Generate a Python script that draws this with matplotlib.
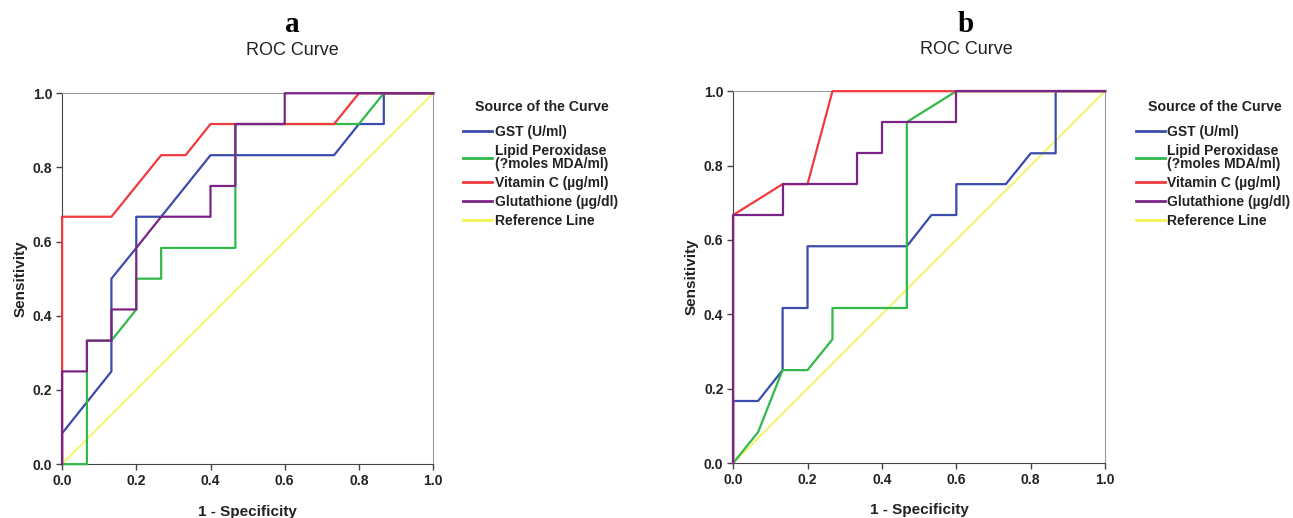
import matplotlib
matplotlib.use("Agg")
import matplotlib.pyplot as plt

plt.rcParams['font.family'] = ['Liberation Sans', 'DejaVu Sans']

labels = ["GST (U/ml)", "Lipid Peroxidase\n(?moles MDA/ml)", "Vitamin C (\u00b5g/ml)",
          "Glutathione (\u00b5g/dl)", "Reference Line"]
colors = ['#3b4cad', '#33b84c', '#ef3a3e', '#7a2485', '#f4f452']

# Panel a (x = 1 - specificity, y = sensitivity)
a_gst_x = [0, 0, 0.133, 0.133, 0.2, 0.2, 0.267, 0.4, 0.733, 0.8, 0.867, 0.867, 1]
a_gst_y = [0, 0.083, 0.25, 0.5, 0.583, 0.667, 0.667, 0.833, 0.833, 0.917, 0.917, 1.0, 1]
a_lip_x = [0, 0.067, 0.067, 0.067, 0.133, 0.2, 0.2, 0.267, 0.267, 0.467, 0.467, 0.8, 0.867, 1]
a_lip_y = [0, 0, 0.25, 0.333, 0.333, 0.417, 0.5, 0.5, 0.583, 0.583, 0.917, 0.917, 1.0, 1]
a_vit_x = [0, 0, 0.133, 0.267, 0.333, 0.4, 0.733, 0.8, 1]
a_vit_y = [0, 0.667, 0.667, 0.833, 0.833, 0.917, 0.917, 1.0, 1]
a_glu_x = [0, 0, 0.067, 0.067, 0.133, 0.133, 0.2, 0.2, 0.267, 0.4, 0.4, 0.467, 0.467, 0.6, 0.6, 1]
a_glu_y = [0, 0.25, 0.25, 0.333, 0.333, 0.417, 0.417, 0.583, 0.667, 0.667, 0.75, 0.75, 0.917, 0.917, 1.0, 1]

# Panel b
b_gst_x = [0, 0, 0.067, 0.133, 0.133, 0.2, 0.2, 0.467, 0.533, 0.6, 0.6, 0.733, 0.8, 0.867, 0.867, 1]
b_gst_y = [0, 0.167, 0.167, 0.25, 0.417, 0.417, 0.583, 0.583, 0.667, 0.667, 0.75, 0.75, 0.833, 0.833, 1.0, 1]
b_lip_x = [0, 0.067, 0.133, 0.2, 0.267, 0.267, 0.467, 0.467, 0.6, 1]
b_lip_y = [0, 0.083, 0.25, 0.25, 0.333, 0.417, 0.417, 0.917, 1.0, 1]
b_vit_x = [0, 0, 0.133, 0.2, 0.267, 1]
b_vit_y = [0, 0.667, 0.75, 0.75, 1.0, 1]
b_glu_x = [0, 0, 0.133, 0.133, 0.333, 0.333, 0.4, 0.4, 0.6, 0.6, 1]
b_glu_y = [0, 0.667, 0.667, 0.75, 0.75, 0.833, 0.833, 0.917, 0.917, 1.0, 1]

ref_x = [0, 1]
ref_y = [0, 1]

ticks = [0.0, 0.2, 0.4, 0.6, 0.8, 1.0]
tick_labels = ["0.0", "0.2", "0.4", "0.6", "0.8", "1.0"]

fig = plt.figure(figsize=(12.93, 5.18), dpi=100)
ax_a = fig.add_axes([0.048, 0.104, 0.287, 0.716])
ax_b = fig.add_axes([0.567, 0.106, 0.2877, 0.718])

panels = [
    (ax_a, "a", [(a_gst_x, a_gst_y), (a_lip_x, a_lip_y), (a_vit_x, a_vit_y), (a_glu_x, a_glu_y)],
     0.418, 0.419, 0.620, 1.164, 1.102),
    (ax_b, "b", [(b_gst_x, b_gst_y), (b_lip_x, b_lip_y), (b_vit_x, b_vit_y), (b_glu_x, b_glu_y)],
     0.938, 0.9395, 0.626, 1.159, 1.0995),
]

for ax, letter, series, legx, titx, tx, ly, ry in panels:
    handles = []
    for (xs, ys), c, lab in zip(series, colors[:4], labels[:4]):
        h, = ax.plot(xs, ys, color=c, lw=1.6, clip_on=False, zorder=3, label=lab)
        handles.append(h)
    h, = ax.plot(ref_x, ref_y, color=colors[4], lw=1.2, clip_on=False, zorder=2, label=labels[4])
    handles.append(h)
    ax.set_xlim(0, 1)
    ax.set_ylim(0, 1)
    ax.set_xticks(ticks)
    ax.set_xticklabels(tick_labels, fontsize=10, fontweight='bold', color='#222222')
    ax.set_yticks(ticks)
    ax.set_yticklabels(tick_labels, fontsize=10, fontweight='bold', color='#222222')
    ax.tick_params(direction='out', length=4, width=1, color='#444444', pad=3)
    for side in ['top', 'right']:
        ax.spines[side].set_color('#999999')
    for side in ['left', 'bottom']:
        ax.spines[side].set_color('#444444')
    ax.set_xlabel("1 - Specificity", fontsize=11, fontweight='bold', color='#222222', labelpad=12)
    ax.set_ylabel("Sensitivity", fontsize=11, fontweight='bold', color='#222222', labelpad=4)
    ax.text(tx, ry, "ROC Curve", transform=ax.transAxes, ha='center', va='baseline',
            fontsize=13, color='#222222')
    ax.text(tx, ly, letter, transform=ax.transAxes, ha='center', va='baseline',
            fontsize=21, fontweight='bold', family='Liberation Serif', color='black')
    fig.text(titx, (518 - 107) / 518, "Source of the Curve", ha='center', va='center',
             fontsize=10.2, fontweight='bold', color='#222222')
    leg = fig.legend(handles=handles, loc='upper center', bbox_to_anchor=(legx, 0.783),
                     frameon=False,
                     prop={'size': 10, 'weight': 'bold'},
                     handlelength=2.1, handletextpad=0.15, labelspacing=0.35)
    for t in leg.get_texts():
        t.set_linespacing(0.95)
        t.set_color('#222222')
    for ln in leg.get_lines():
        ln.set_linewidth(2)

fig.savefig("out.png", dpi=100, facecolor='white')
